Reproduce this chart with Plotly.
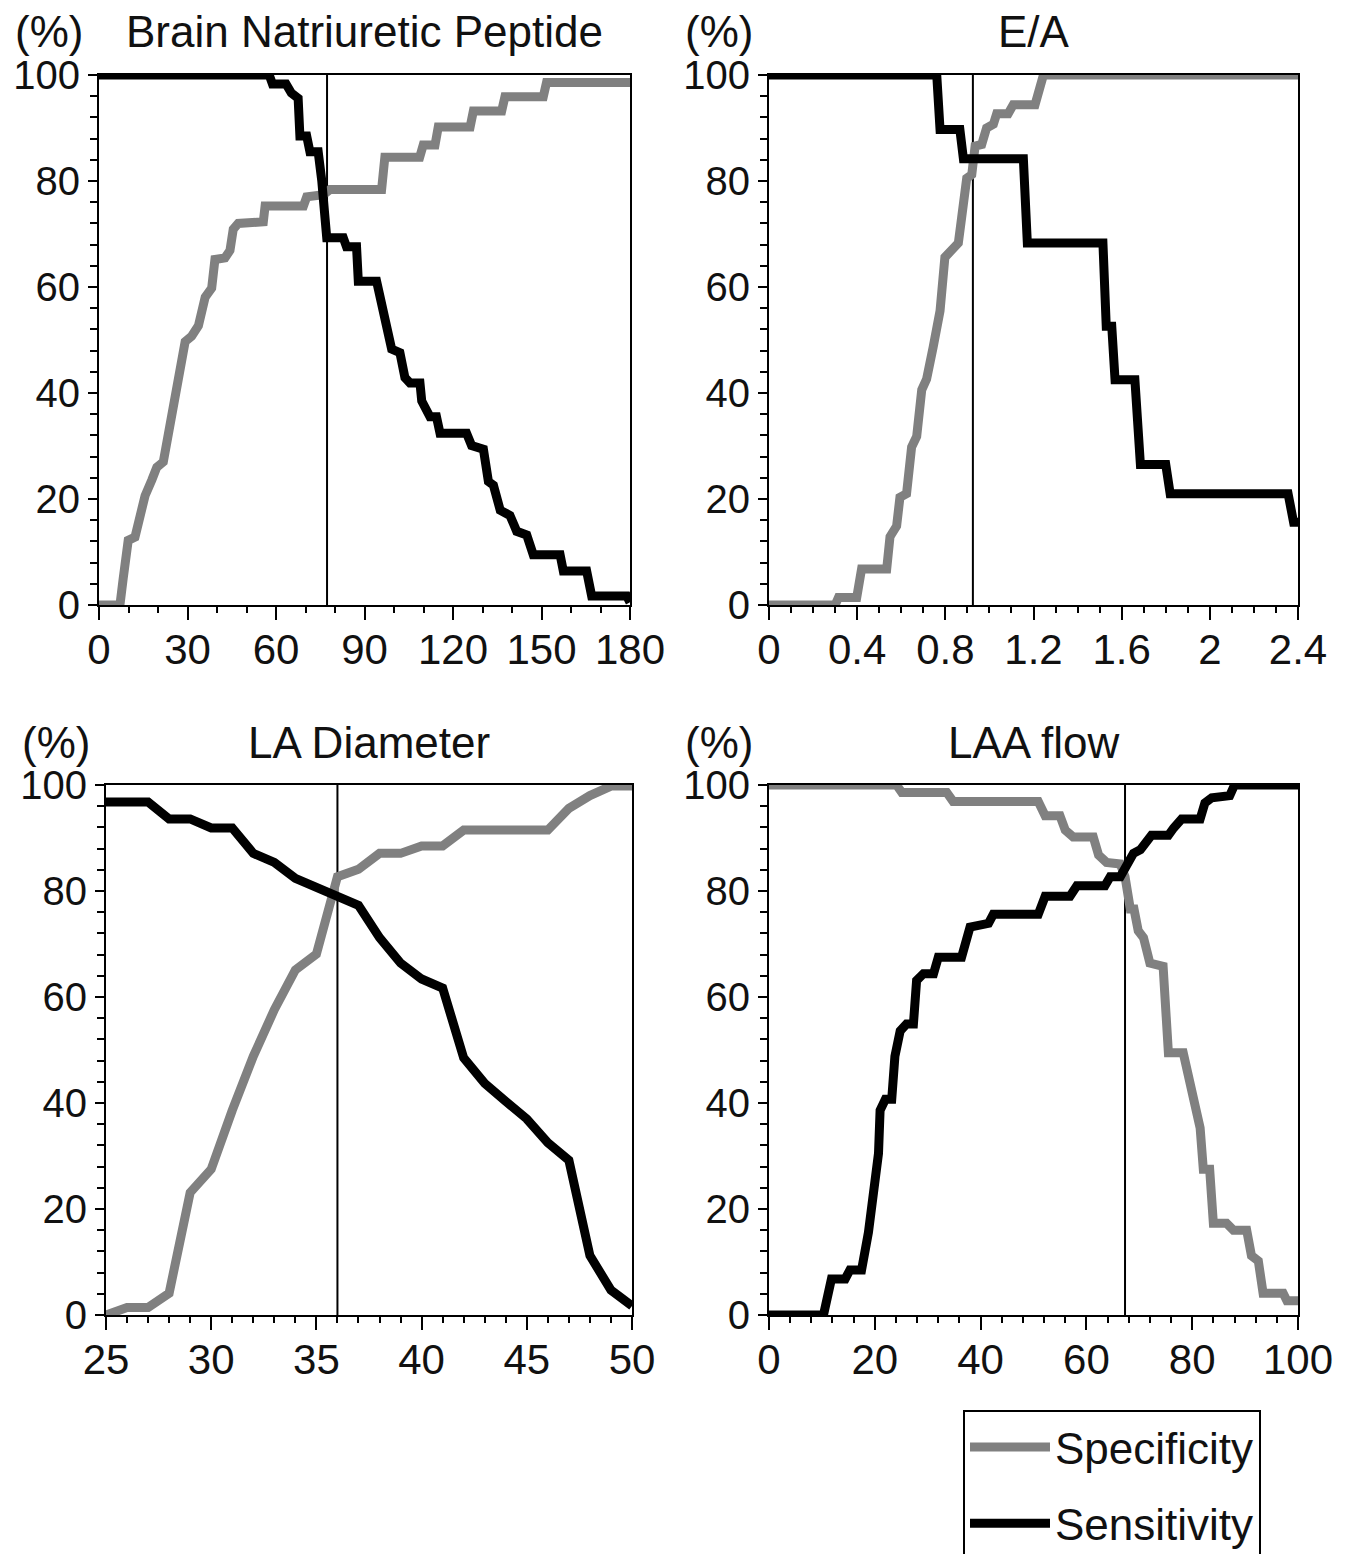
import plotly.graph_objects as go

# ---------------- data ----------------
# Brain Natriuretic Peptide
bnp_spec_x = [0, 7.1, 8.2, 9.9, 12.2, 13.9, 15.6, 17.9, 19.6, 21.8, 23.5, 25.2, 26.9, 29.2, 31.4, 33.7, 36.0,
              38.2, 39.3, 42.7, 44.4, 45.5, 47.2, 55.7, 56.3, 69.3, 70.4, 76.1, 78.3, 95.8, 96.9, 108.7, 109.9,
              113.9, 115.0, 125.8, 126.9, 136.5, 137.6, 150.6, 151.7, 180]
bnp_spec_y = [0, 0, 5, 12.2, 12.8, 16.6, 20.6, 23.6, 26, 27, 32.8, 38.2, 42.9, 49.7, 50.7, 52.7, 58.1,
              59.8, 65.2, 65.5, 66.9, 70.9, 72, 72.3, 75.3, 75.3, 77, 77.4, 78.4, 78.4, 84.5, 84.5, 86.8,
              86.8, 90.2, 90.2, 93.2, 93.2, 95.9, 95.9, 98.6, 98.6]
bnp_sens_x = [0, 57.7, 58.8, 63.4, 65.2, 66.9, 67.5, 68.1, 70.4, 71.5, 74.3, 75.5, 77.2, 82.8, 83.9, 87.3,
              87.9, 94.1, 95.2, 99.2, 102.0, 103.7, 105.4, 108.8, 109.4, 112.2, 114.4, 115.6, 124.6, 126.3,
              130.3, 132.0, 133.7, 136.0, 139.3, 141.6, 145.0, 147.2, 156.3, 157.4, 165.3, 167.0, 178.9, 180]
bnp_sens_y = [100, 100, 98.3, 98.3, 96.6, 95.6, 95.6, 88.5, 88.5, 85.5, 85.5, 80.1, 69.3, 69.3, 67.6, 67.6,
              61.1, 61.1, 58.1, 48.3, 47.6, 42.9, 41.9, 41.9, 38.5, 35.5, 35.5, 32.4, 32.4, 30.1,
              29.4, 23.3, 22.6, 17.9, 16.9, 13.9, 13.2, 9.5, 9.5, 6.4, 6.4, 1.7, 1.7, 0.5]

# E/A
ea_spec_x = [0, 0.30, 0.315, 0.398, 0.42, 0.534, 0.549, 0.579, 0.594, 0.624, 0.647, 0.67, 0.693, 0.715,
             0.745, 0.776, 0.798, 0.829, 0.859, 0.874, 0.897, 0.92, 0.935, 0.965, 0.987, 1.018, 1.033,
             1.085, 1.108, 1.207, 1.245, 2.4]
ea_spec_y = [0, 0, 1.4, 1.4, 6.8, 6.8, 12.9, 14.9, 20.3, 21, 29.8, 31.8, 40.6, 42.6,
             48.7, 55.5, 65.6, 67, 68.3, 73.1, 80.5, 81.2, 86.6, 86.9, 90, 90.7, 92.7,
             92.7, 94.4, 94.4, 100, 100]
ea_sens_x = [0, 0.761, 0.776, 0.866, 0.882, 1.154, 1.172, 1.515, 1.53, 1.555, 1.57, 1.66, 1.685, 1.80,
             1.82, 2.355, 2.38, 2.4]
ea_sens_y = [100, 100, 89.7, 89.7, 84.2, 84.2, 68.3, 68.3, 52.6, 52.6, 42.5, 42.5, 26.5, 26.5,
             21, 21, 15.6, 15.6]

# LA Diameter
la_x = [25, 26, 27, 28, 29, 30, 31, 32, 33, 34, 35, 36, 37, 38, 39, 40, 41, 42, 43, 44, 45, 46, 47, 48, 49, 50]
la_spec_y = [0, 1.4, 1.4, 4.1, 23.1, 27.5, 38.6, 48.8, 57.6, 65.1, 68.1, 82.7, 84.1, 87.1, 87.1, 88.5,
             88.5, 91.5, 91.5, 91.5, 91.5, 91.5, 95.6, 98.0, 99.8, 99.8]
la_sens_y = [96.8, 96.8, 96.8, 93.6, 93.6, 91.9, 91.9, 87.1, 85.4, 82.4, 80.7, 79.0, 77.3, 71.2, 66.4,
             63.4, 61.7, 48.5, 43.7, 40.3, 37.0, 32.5, 29.2, 11.2, 4.7, 1.7]

# LAA flow
laa_spec_x = [0, 24.1, 25.1, 33.6, 34.8, 50.9, 52.2, 55.0, 56.0, 57.5, 61.3, 62.3, 63.8, 66.4, 67.3, 68.3,
              69.0, 69.8, 70.8, 72.0, 74.5, 75.5, 78.3, 79.3, 80.5, 81.5, 82.1, 83.3, 84.0, 86.5, 87.8,
              90.3, 91.2, 92.5, 93.4, 97.2, 97.9, 100]
laa_spec_y = [100, 100, 98.6, 98.6, 96.9, 96.9, 94.2, 94.2, 91.5, 90.2, 90.2, 86.8, 85.4, 85.1, 82.7, 76.6,
              76.6, 72.5, 71.2, 66.4, 65.8, 49.5, 49.5, 44.7, 40, 35.3, 27.5, 27.5, 17.3, 17.3, 16,
              16, 11.2, 10.2, 4.1, 4.1, 2.7, 2.7]
laa_sens_x = [0, 10.3, 11.8, 14.4, 15.3, 17.5, 18.8, 20.0, 20.7, 21.0, 22.0, 23.2, 23.8, 24.8, 26.0, 27.3,
              27.9, 29.2, 31.1, 32.0, 36.4, 38.0, 41.5, 42.4, 50.9, 52.2, 56.9, 58.2, 63.5, 64.5, 66.4,
              68.9, 70.2, 72.3, 75.5, 76.5, 78.0, 81.5, 82.4, 83.7, 87.1, 88.0, 100]
laa_sens_y = [0, 0, 6.8, 6.8, 8.5, 8.5, 15.6, 23.7, 30.5, 38.6, 40.7, 40.7, 48.8, 53.6, 54.9, 54.9,
              63.1, 64.4, 64.4, 67.5, 67.5, 73.2, 73.9, 75.6, 75.6, 79, 79, 81, 81, 82.7, 82.7,
              87.1, 87.8, 90.5, 90.5, 91.9, 93.6, 93.6, 96.6, 97.6, 98, 100, 100]

titles = ["Brain Natriuretic Peptide", "E/A", "LA Diameter", "LAA flow"]
cutoffs = [77.3, 0.925, 36.0, 67.3]
x_ranges = [[0, 180], [0, 2.4], [25, 50], [0, 100]]
x_major = [30, 0.4, 5, 20]
x_minor = [10, 0.1, 1, 4]
y_range = [0, 100]
series_names = ["Specificity", "Sensitivity"]

panels = [
    (bnp_spec_x, bnp_spec_y, bnp_sens_x, bnp_sens_y),
    (ea_spec_x, ea_spec_y, ea_sens_x, ea_sens_y),
    (la_x, la_spec_y, la_x, la_sens_y),
    (laa_spec_x, laa_spec_y, laa_sens_x, laa_sens_y),
]

# ---------------- layout geometry (pixels) ----------------
W, H = 1349, 1554
boxes = [  # left, right, top, bottom in px
    (99, 630, 75, 605),
    (769, 1298, 75, 605),
    (106, 632, 785, 1315),
    (769, 1298, 785, 1315),
]
FONT = "Liberation Sans, Arial, sans-serif"
TXT = "#111111"
GRAY = "#808080"
BLACK = "#000000"
LW = 9

fig = go.Figure()
layout = dict(
    width=W, height=H,
    margin=dict(l=0, r=0, t=0, b=0, autoexpand=False),
    paper_bgcolor="white", plot_bgcolor="white",
    font=dict(family=FONT, size=42, color=TXT),
    showlegend=True,
    legend=dict(
        x=963 / W, y=1 - 1410 / H, xanchor="left", yanchor="top",
        bordercolor="black", borderwidth=2, bgcolor="white",
        font=dict(family=FONT, size=44, color=TXT),
        traceorder="grouped", tracegroupgap=16, itemwidth=80,
        entrywidth=318, entrywidthmode="pixels",
    ),
    annotations=[],
)

for i, (sx, sy, ex, ey) in enumerate(panels):
    xa = "x" if i == 0 else f"x{i+1}"
    ya = "y" if i == 0 else f"y{i+1}"
    l, r, t, b = boxes[i]
    # cutoff line
    fig.add_trace(go.Scatter(x=[cutoffs[i], cutoffs[i]], y=y_range, mode="lines",
                             line=dict(color=BLACK, width=2), showlegend=False,
                             hoverinfo="skip", xaxis=xa, yaxis=ya))
    fig.add_trace(go.Scatter(x=sx, y=sy, mode="lines", name=series_names[0],
                             legendgroup="spec", showlegend=(i == 0),
                             line=dict(color=GRAY, width=LW), xaxis=xa, yaxis=ya))
    fig.add_trace(go.Scatter(x=ex, y=ey, mode="lines", name=series_names[1],
                             legendgroup="sens", showlegend=(i == 0),
                             line=dict(color=BLACK, width=LW), xaxis=xa, yaxis=ya))
    axis_common = dict(showline=True, linecolor="black", linewidth=2, mirror=True,
                       showgrid=False, zeroline=False, ticks="outside", tickcolor="black",
                       tickwidth=2)
    xkey = "xaxis" if i == 0 else f"xaxis{i+1}"
    ykey = "yaxis" if i == 0 else f"yaxis{i+1}"
    layout[xkey] = dict(domain=[l / W, r / W], anchor=ya, range=x_ranges[i],
                        tick0=x_ranges[i][0], dtick=x_major[i], ticklen=13,
                        ticklabelstandoff=-6,
                        tickfont=dict(family=FONT, size=42, color=TXT),
                        minor=dict(dtick=x_minor[i], tick0=x_ranges[i][0], ticks="outside",
                                   ticklen=6, tickwidth=1.5, tickcolor="black", showgrid=False),
                        **axis_common)
    layout[ykey] = dict(domain=[1 - b / H, 1 - t / H], anchor=xa, range=y_range,
                        tick0=0, dtick=20, ticklen=9,
                        tickfont=dict(family=FONT, size=40, color=TXT),
                        minor=dict(dtick=4, ticks="outside", ticklen=7, tickwidth=1.5,
                                   tickcolor="black", showgrid=False),
                        **axis_common)
    # titles
    layout["annotations"].append(dict(
        text=titles[i], xref="paper", yref="paper", x=((l + r) / 2) / W, y=1 - (t - 43) / H,
        xanchor="center", yanchor="middle", showarrow=False,
        font=dict(family=FONT, size=44, color=TXT)))
    layout["annotations"].append(dict(
        text="(%)", xref="paper", yref="paper", x=(l - 50) / W, y=1 - (t - 43) / H,
        xanchor="center", yanchor="middle", showarrow=False,
        font=dict(family=FONT, size=44, color=TXT)))

fig.update_layout(**layout)
fig.write_html("out.html", config={"displayModeBar": False},
               post_script="document.body.style.margin='0';document.body.style.padding='0';")
